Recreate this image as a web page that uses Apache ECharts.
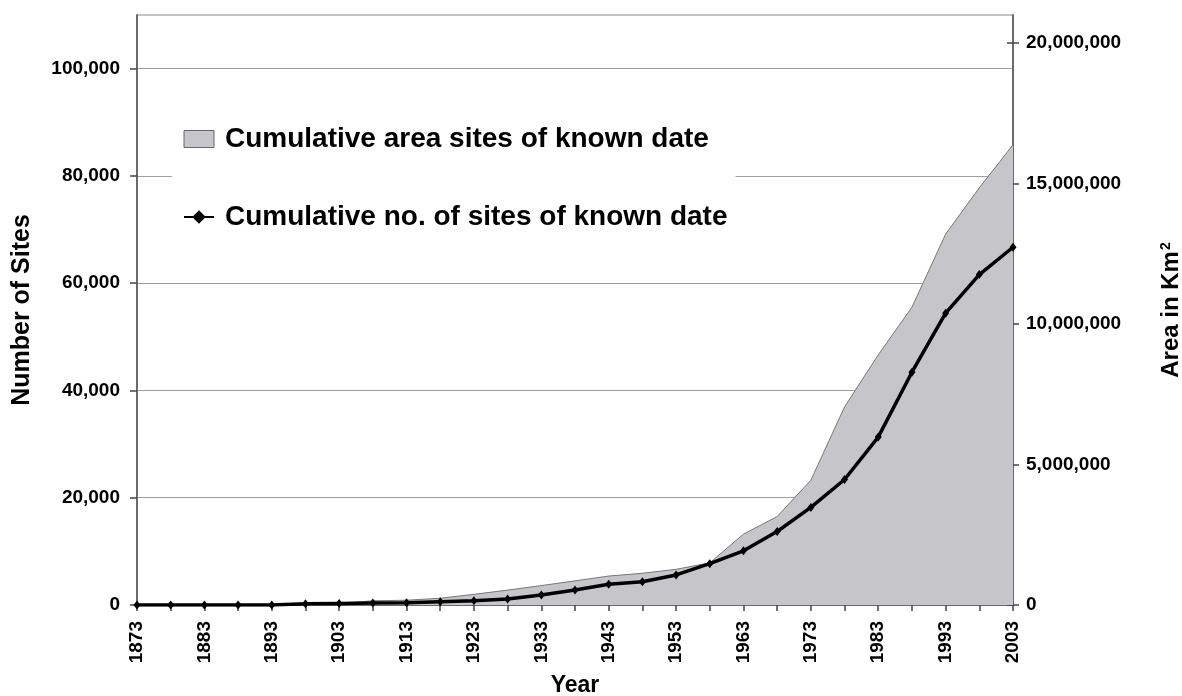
<!DOCTYPE html>
<html>
<head>
<meta charset="utf-8">
<script src="https://cdn.jsdelivr.net/npm/echarts@6/dist/echarts.min.js"></script>
<style>
html,body{margin:0;padding:0;background:#fff;}
#chart{width:1182px;height:696px;}
</style>
</head>
<body>
<div id="chart"></div>
<script>
const years = ['1873','1878','1883','1888','1893','1898','1903','1908','1913','1918','1923','1928','1933','1938','1943','1948','1953','1958','1963','1968','1973','1978','1983','1988','1993','1998','2003'];
const sitesCount = [0,0,0,0,0,250,300,350,400,600,800,1100,1850,2800,3850,4350,5600,7700,10100,13700,18200,23400,31300,43400,54400,61600,66700];
const areaKm2 = [0,0,0,0,0,20000,50000,150000,170000,240000,380000,530000,690000,860000,1030000,1130000,1270000,1500000,2520000,3150000,4440000,7050000,8900000,10600000,13200000,14850000,16380000];
const leftTicks = [0,20000,40000,60000,80000,100000];
const rightTicks = [0,5000000,10000000,15000000,20000000];
const areaName = 'Cumulative area sites of known date';
const sitesName = 'Cumulative no. of sites of known date';

const FONT = 'Liberation Sans, Arial, sans-serif';
const fmt = v => Number(v).toLocaleString('en-US');

const chart = echarts.init(document.getElementById('chart'), null, {renderer:'canvas'});
chart.setOption({
  animation: false,
  backgroundColor: '#fff',
  textStyle: {fontFamily: FONT},
  grid: {left: 137, right: 169, top: 15, bottom: 91, outerBoundsMode: 'none', containLabel: false,
    show: true, borderColor: '#8a8a8a', borderWidth: 1, backgroundColor: 'transparent'},
  legend: {
    orient: 'vertical', left: 172, top: 117,
    padding: [8, 8, 10, 11], itemGap: 50,
    backgroundColor: '#fff',
    itemWidth: 30, itemHeight: 17,
    selectedMode: false,
    textStyle: {fontFamily: FONT, fontWeight: 'bold', fontSize: 28, color: '#000', padding: [0, 0, 0, 6]},
    data: [
      {name: areaName, icon: 'rect', itemStyle: {color: '#c6c5c9', borderColor: '#666', borderWidth: 1}},
      {name: sitesName}
    ]
  },
  xAxis: {
    type: 'category', data: years, boundaryGap: false,
    axisLine: {lineStyle: {color: '#6a6a6a', width: 2}},
    axisTick: {interval: 0, length: 6, lineStyle: {color: '#444', width: 1.5}},
    axisLabel: {interval: 1, rotate: 90, margin: 16, fontFamily: FONT, fontWeight: 'bold', fontSize: 19, color: '#000'},
    name: 'Year', nameLocation: 'middle', nameGap: 69,
    nameTextStyle: {fontFamily: FONT, fontWeight: 'bold', fontSize: 23, color: '#000'}
  },
  yAxis: [
    {
      type: 'value', position: 'left', min: 0, max: 110000, interval: 20000,
      axisLine: {show: true, lineStyle: {color: '#6a6a6a', width: 2}},
      axisTick: {show: true, length: 7, customValues: leftTicks, lineStyle: {color: '#444', width: 1.5}},
      axisLabel: {showMaxLabel: false, margin: 17, fontFamily: FONT, fontWeight: 'bold', fontSize: 19, color: '#000', formatter: fmt},
      splitLine: {show: true, lineStyle: {color: '#a0a0a0', width: 1}},
      name: 'Number of Sites', nameLocation: 'middle', nameGap: 102,
      nameTextStyle: {fontFamily: FONT, fontWeight: 'bold', fontSize: 25, color: '#000'}
    },
    {
      type: 'value', position: 'right', min: 0, max: 21000000, interval: 5000000,
      axisLine: {show: true, lineStyle: {color: '#6a6a6a', width: 2}},
      axisTick: {show: true, length: 6, customValues: rightTicks, lineStyle: {color: '#444', width: 1.5}},
      axisLabel: {showMaxLabel: false, margin: 13, fontFamily: FONT, fontWeight: 'bold', fontSize: 19, color: '#000', formatter: fmt},
      splitLine: {show: false},
      name: 'Area in Km{sup|2}', nameLocation: 'middle', nameGap: 146,
      nameTextStyle: {fontFamily: FONT, fontWeight: 'bold', fontSize: 24, color: '#000',
        rich: {sup: {fontFamily: FONT, fontWeight: 'bold', fontSize: 14, color: '#000', verticalAlign: 'top', padding: [0, 0, 10, 1]}}}
    },
    {
      type: 'value', position: 'right', min: 0, max: 21000000, interval: 5000000,
      axisLine: {show: false},
      axisTick: {show: true, inside: true, length: 6, customValues: rightTicks, lineStyle: {color: '#444', width: 1.5}},
      axisLabel: {show: false},
      splitLine: {show: false}
    }
  ],
  series: [
    {
      name: areaName, type: 'line', yAxisIndex: 1, data: areaKm2,
      symbol: 'none', z: 1,
      itemStyle: {color: '#c6c5c9'},
      lineStyle: {color: '#777', width: 1},
      areaStyle: {color: '#c6c5c9', opacity: 1}
    },
    {
      name: sitesName, type: 'line', yAxisIndex: 0, data: sitesCount,
      symbol: 'diamond', symbolSize: [7, 9], z: 3,
      itemStyle: {color: '#000'},
      lineStyle: {color: '#000', width: 3.5}
    }
  ]
});
</script>
</body>
</html>
